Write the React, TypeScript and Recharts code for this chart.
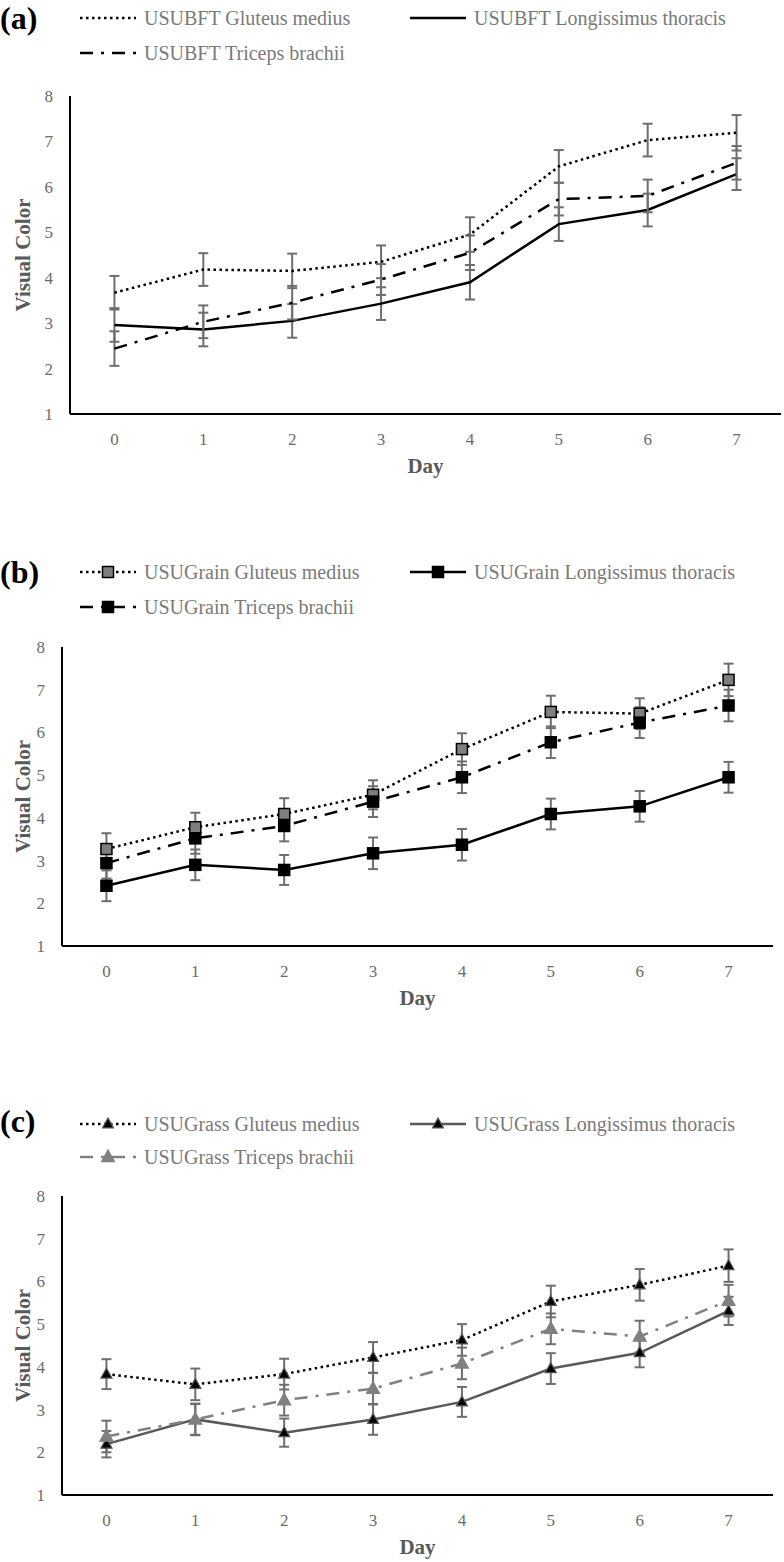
import React from "react";
import { LineChart, Line, XAxis, YAxis, ErrorBar } from "recharts";

const FONT = '"Liberation Serif", "Times New Roman", serif';

const days = [0, 1, 2, 3, 4, 5, 6, 7];
const yTicks = [1, 2, 3, 4, 5, 6, 7, 8];

// (a) USUBFT
const bftGluteus = [3.67, 4.18, 4.15, 4.35, 4.95, 6.45, 7.03, 7.19];
const bftGluteusErr = [0.37, 0.36, 0.38, 0.36, 0.38, 0.36, 0.36, 0.39];
const bftLongissimus = [2.96, 2.86, 3.05, 3.43, 3.9, 5.18, 5.49, 6.28];
const bftLongissimusErr = [0.37, 0.37, 0.37, 0.36, 0.38, 0.37, 0.36, 0.35];
const bftTriceps = [2.44, 3.03, 3.45, 3.96, 4.55, 5.73, 5.8, 6.53];
const bftTricepsErr = [0.38, 0.36, 0.37, 0.34, 0.38, 0.36, 0.36, 0.37];

// (b) USUGrain
const grainGluteus = [3.27, 3.78, 4.09, 4.54, 5.61, 6.48, 6.44, 7.23];
const grainGluteusErr = [0.37, 0.34, 0.37, 0.34, 0.37, 0.38, 0.36, 0.38];
const grainLongissimus = [2.41, 2.9, 2.78, 3.17, 3.37, 4.09, 4.27, 4.95];
const grainLongissimusErr = [0.36, 0.36, 0.35, 0.37, 0.37, 0.36, 0.36, 0.36];
const grainTriceps = [2.94, 3.52, 3.81, 4.38, 4.95, 5.77, 6.23, 6.63];
const grainTricepsErr = [0.36, 0.36, 0.36, 0.36, 0.37, 0.37, 0.36, 0.37];

// (c) USUGrass
const grassGluteus = [3.83, 3.59, 3.83, 4.22, 4.63, 5.53, 5.92, 6.37];
const grassGluteusErr = [0.35, 0.37, 0.36, 0.36, 0.37, 0.37, 0.37, 0.38];
const grassLongissimus = [2.19, 2.77, 2.46, 2.77, 3.18, 3.96, 4.33, 5.31];
const grassLongissimusErr = [0.31, 0.36, 0.33, 0.36, 0.35, 0.36, 0.34, 0.33];
const grassTriceps = [2.37, 2.77, 3.22, 3.49, 4.08, 4.89, 4.71, 5.55];
const grassTricepsErr = [0.37, 0.37, 0.36, 0.37, 0.37, 0.36, 0.37, 0.37];

const toRows = (g: number[], ge: number[], l: number[], le: number[], t: number[], te: number[]) =>
  days.map((d, i) => ({ day: d, g: g[i], ge: ge[i], l: l[i], le: le[i], t: t[i], te: te[i] }));

type Series = {
  key: string;
  errKey: string;
  name: string;
  stroke: string;
  dash?: string;
  marker?: "square" | "triangle";
  markerFill?: string;
  markerStroke?: string;
  markerSize?: number;
};

const DOTTED = "2.5 3.5";
const DASHDOT = "13 8 3 8";

function drawMarker(s: Series, cx: number, cy: number, key: string) {
  const sz = s.markerSize || 11;
  if (s.marker === "square") {
    return (
      <rect key={key} x={cx - sz / 2} y={cy - sz / 2} width={sz} height={sz}
        fill={s.markerFill} stroke={s.markerStroke} strokeWidth={1.5} />
    );
  }
  const h = sz * 0.9;
  return (
    <polygon key={key}
      points={`${cx},${cy - h * 0.6} ${cx - sz / 2},${cy + h * 0.4} ${cx + sz / 2},${cy + h * 0.4}`}
      fill={s.markerFill} stroke={s.markerStroke} strokeWidth={1.2} />
  );
}

function LegendItem({ s, x, y }: { s: Series; x: number; y: number }) {
  return (
    <div style={{ position: "absolute", left: x, top: y - 12, height: 24, display: "flex", alignItems: "center", whiteSpace: "nowrap" }}>
      <svg width={56} height={16}>
        <line x1={0} y1={8} x2={56} y2={8} stroke={s.stroke} strokeWidth={2.5} strokeDasharray={s.dash} />
        {s.marker ? drawMarker(s, 28, 8, "m") : null}
      </svg>
      <span style={{ marginLeft: 8, fontFamily: FONT, fontSize: 20, color: "#7a7a7a" }}>{s.name}</span>
    </div>
  );
}

function Panel({ letter, data, series, plotTop, plotBottom, axisX, right, letterY, rows }: any) {
  const pad = 10;
  const plotH = plotBottom - plotTop;
  const xH = 66;
  return (
    <>
      <div style={{ position: "absolute", left: 0, top: letterY - 19, fontFamily: FONT, fontWeight: "bold", fontSize: 32, lineHeight: "38px", color: "#000" }}>
        ({letter})
      </div>
      <LegendItem s={series[0]} x={80} y={rows[0]} />
      <LegendItem s={series[1]} x={410} y={rows[0]} />
      <LegendItem s={series[2]} x={80} y={rows[1]} />
      <div style={{ position: "absolute", left: 0, top: plotTop - pad }}>
        <LineChart width={784} height={pad + plotH + xH} data={data}
          margin={{ top: pad, right: 784 - right, bottom: 0, left: 0 }}>
          <XAxis type="number" dataKey="day" domain={[-0.5, 7.5]} ticks={days} interval={0}
            tickLine={false} tickSize={0} tickMargin={19} height={xH}
            axisLine={{ stroke: "#000", strokeWidth: 2 }}
            tick={{ fill: "#6b6b6b", fontSize: 17, fontFamily: FONT }}
            label={{ value: "Day", position: "insideBottom", offset: 7, fill: "#595959", fontSize: 21, fontWeight: "bold", fontFamily: FONT }} />
          <YAxis type="number" domain={[1, 8]} ticks={yTicks} interval={0} width={axisX}
            tickLine={false} tickSize={0} tickMargin={17}
            axisLine={{ stroke: "#000", strokeWidth: 2 }}
            tick={{ fill: "#6b6b6b", fontSize: 17, fontFamily: FONT }}
            label={{ value: "Visual Color", angle: -90, position: "insideLeft", offset: 23, style: { textAnchor: "middle" }, fill: "#595959", fontSize: 21, fontWeight: "bold", fontFamily: FONT }} />
          {series.map((s: Series) => (
            <Line key={s.key} dataKey={s.key} name={s.name} type="linear" stroke={s.stroke}
              strokeWidth={2.5} strokeDasharray={s.dash} isAnimationActive={false}
              dot={s.marker ? (p: any) => drawMarker(s, p.cx, p.cy, `${s.key}-${p.index}`) : false}
              activeDot={false}>
              <ErrorBar dataKey={s.errKey} width={5} stroke="#6e6e6e" strokeWidth={2} direction="y" />
            </Line>
          ))}
        </LineChart>
      </div>
    </>
  );
}

const bftSeries: Series[] = [
  { key: "g", errKey: "ge", name: "USUBFT Gluteus medius", stroke: "#000", dash: DOTTED },
  { key: "l", errKey: "le", name: "USUBFT Longissimus thoracis", stroke: "#000" },
  { key: "t", errKey: "te", name: "USUBFT Triceps brachii", stroke: "#000", dash: DASHDOT },
];

const grainSeries: Series[] = [
  { key: "g", errKey: "ge", name: "USUGrain Gluteus medius", stroke: "#000", dash: DOTTED, marker: "square", markerFill: "#7f7f7f", markerStroke: "#000", markerSize: 11 },
  { key: "l", errKey: "le", name: "USUGrain Longissimus thoracis", stroke: "#000", marker: "square", markerFill: "#000", markerStroke: "#000", markerSize: 11 },
  { key: "t", errKey: "te", name: "USUGrain Triceps brachii", stroke: "#000", dash: DASHDOT, marker: "square", markerFill: "#000", markerStroke: "#000", markerSize: 11 },
];

const grassSeries: Series[] = [
  { key: "g", errKey: "ge", name: "USUGrass Gluteus medius", stroke: "#000", dash: DOTTED, marker: "triangle", markerFill: "#000", markerStroke: "#555", markerSize: 11 },
  { key: "l", errKey: "le", name: "USUGrass Longissimus thoracis", stroke: "#595959", marker: "triangle", markerFill: "#000", markerStroke: "#555", markerSize: 11 },
  { key: "t", errKey: "te", name: "USUGrass Triceps brachii", stroke: "#808080", dash: DASHDOT, marker: "triangle", markerFill: "#808080", markerStroke: "#808080", markerSize: 13 },
];

export default function App() {
  return (
    <div style={{ position: "absolute", top: 0, left: 0, width: 784, height: 1562, background: "#fff" }}>
      <Panel letter="a" data={toRows(bftGluteus, bftGluteusErr, bftLongissimus, bftLongissimusErr, bftTriceps, bftTricepsErr)}
        series={bftSeries} plotTop={96} plotBottom={414} axisX={70} right={781} letterY={18} rows={[18, 53]} />
      <Panel letter="b" data={toRows(grainGluteus, grainGluteusErr, grainLongissimus, grainLongissimusErr, grainTriceps, grainTricepsErr)}
        series={grainSeries} plotTop={647} plotBottom={946} axisX={62} right={773} letterY={572} rows={[572, 607]} />
      <Panel letter="c" data={toRows(grassGluteus, grassGluteusErr, grassLongissimus, grassLongissimusErr, grassTriceps, grassTricepsErr)}
        series={grassSeries} plotTop={1196} plotBottom={1495} axisX={62} right={773} letterY={1121} rows={[1124, 1157]} />
    </div>
  );
}
